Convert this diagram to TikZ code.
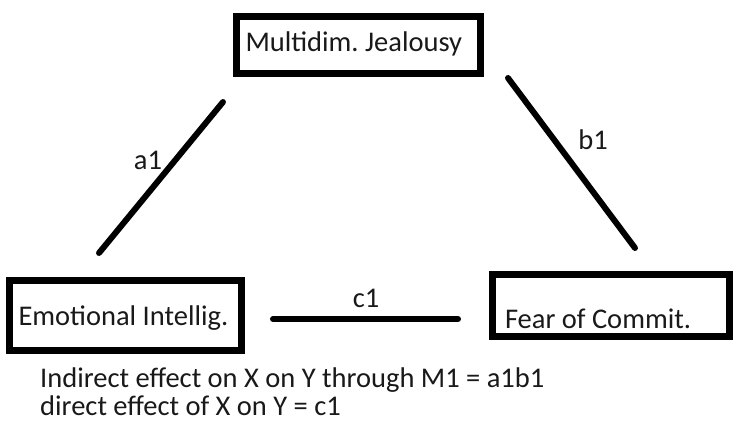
\documentclass[tikz,border=0pt]{standalone}
\usepackage{fontspec}
\setmainfont{Carlito}
\usetikzlibrary{positioning}

\begin{document}
\frenchspacing
\begin{tikzpicture}[x=1pt, y=-1pt,
    box/.style={draw, line width=7pt, align=flush left, inner xsep=9pt, font=\fontsize{28.5}{32}\selectfont, text=black!90},
    lnk/.style={line width=6pt, line cap=round, black},
    coef/.style={font=\fontsize{28.5}{32}\selectfont, text=black!90, inner sep=0pt},
]
\useasboundingbox (0,0) rectangle (734,423);

% Boxes
\node[box, minimum width=244pt, minimum height=57pt, text width=226pt, text height=19pt, text depth=7pt, inner ysep=2pt] (jeal) at (358.5,45) {Multidim. Jealousy};
\node[box, minimum width=232pt, minimum height=70pt, text width=214pt, text height=25pt, text depth=6pt, inner ysep=2pt] (emo) at (125.5,315.5) {Emotional Intellig.};
\node[box, minimum width=237pt, minimum height=62pt, text width=212pt, inner xsep=12.5pt, text height=48pt, text depth=3pt, inner ysep=2pt] (fear) at (611,305.5) {Fear of Commit.};

% Paths
\coordinate (a1s) at (99,253);
\coordinate (a1e) at (223,102);
\coordinate (b1s) at (508,78);
\coordinate (b1e) at (635,248);
\coordinate (c1s) at (273,319);
\coordinate (c1e) at (458,319);
\draw[lnk] (a1s) -- (a1e);
\draw[lnk] (b1s) -- (b1e);
\draw[lnk] (c1s) -- (c1e);

% Labels
\node[coef] (a1) at (148,160) {a1};
\node[coef] (b1) at (593,140) {b1};
\node[coef] (c1) at (366,298) {c1};

% Note
\node[coef, align=left, anchor=north west, font=\fontsize{28.5}{28}\selectfont] (note) at (40,368) {Indirect effect on X on Y through M1 = a1b1\\direct effect of X on Y = c1};
\end{tikzpicture}
\end{document}
